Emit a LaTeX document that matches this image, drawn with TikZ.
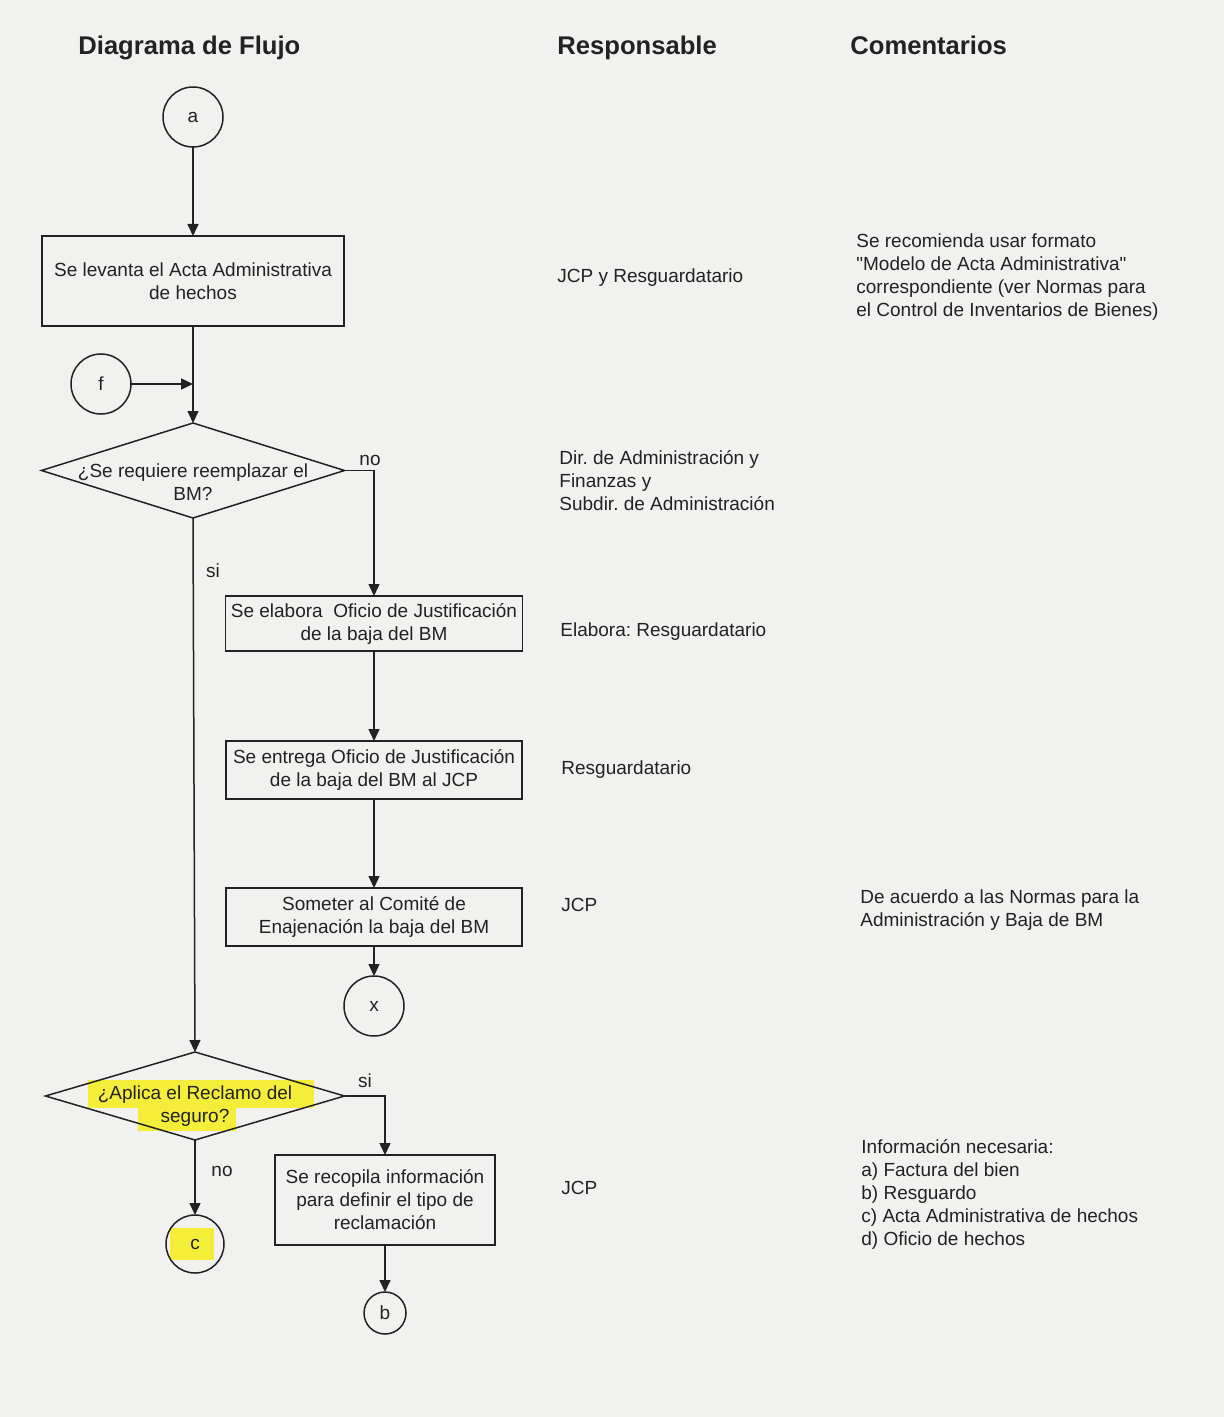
\documentclass[tikz,border=0pt]{standalone}
\usepackage{fontspec}
\setmainfont{Liberation Sans}[Ligatures=TeXOff]
\usetikzlibrary{arrows.meta,shapes.geometric}
\definecolor{paper}{RGB}{241,241,239}
\definecolor{ink}{RGB}{34,34,34}
\definecolor{hl}{RGB}{244,238,58}
\frenchspacing
\begin{document}
\begin{tikzpicture}[x=0.5pt,y=-0.5pt,
  every node/.style={font=\fontsize{9.5pt}{11.5pt}\selectfont\frenchspacing, text=ink},
  box/.style={draw=ink, rectangle, line width=0.75pt, inner sep=0pt, outer sep=0pt, align=center},
  conn/.style={draw=ink, circle, line width=0.75pt, inner sep=0pt, outer sep=0pt},
  dec/.style={draw=ink, diamond, line width=0.75pt, inner sep=0pt, outer sep=0pt},
  dtext/.style={align=center, inner sep=0pt},
  flow/.style={draw=ink, line width=0.75pt, -{Triangle[length=6pt,width=5.5pt]}},
  hdr/.style={font=\fontsize{12.8pt}{15pt}\selectfont\bfseries, anchor=base west, inner sep=0pt},
  txt/.style={align=left, anchor=north west, inner sep=0pt},
  lbl/.style={inner sep=0pt},
]
% page
\fill[paper] (0,0) rectangle (1224,1417);
\useasboundingbox (0,0) rectangle (1224,1417);

% headers
\node[hdr] (h1) at (78,55) {Diagrama de Flujo};
\node[hdr] (h2) at (557,55) {Responsable};
\node[hdr] (h3) at (850,55) {Comentarios};

% highlights
\fill[hl] (88,1080) rectangle (314,1108);
\fill[hl] (138,1106) rectangle (236,1131);
\fill[hl] (170,1228) rectangle (214,1260);

% flow nodes
\node[conn, minimum size=30pt] (a) at (193,117) {a};
\node[box, minimum width=151pt, minimum height=45pt] (b1) at (193,281)
  {Se levanta el Acta Administrativa\\de hechos};
\node[conn, minimum size=30pt] (f) at (101,384) {f};
\coordinate (j1) at (193,384);
\node[dec, minimum width=151.5pt, minimum height=47.5pt] (d1) at (193,470.5) {};
\node[dtext] (d1t) at (193,482) {¿Se requiere reemplazar el\\BM?};
\node[box, minimum width=148.5pt, minimum height=27.5pt] (b2) at (374,623.5)
  {Se elabora\ \ Oficio de Justificación\\de la baja del BM};
\node[box, minimum width=148pt, minimum height=29pt] (b3) at (374,770)
  {Se entrega Oficio de Justificación\\de la baja del BM al JCP};
\node[box, minimum width=148pt, minimum height=29pt] (b4) at (374,917)
  {Someter al Comité de\\Enajenación la baja del BM};
\node[conn, minimum size=30pt] (x) at (374,1006) {x};
\node[dec, minimum width=149.5pt, minimum height=44pt] (d2) at (195,1096) {};
\node[dtext] (d2t) at (195,1106) {¿Aplica el Reclamo del\\seguro?};
\node[conn, minimum size=29pt] (c) at (195,1244) {c};
\node[box, minimum width=110pt, minimum height=45pt] (b5) at (385,1200)
  {Se recopila información\\para definir el tipo de\\reclamación};
\node[conn, minimum size=21pt] (b) at (385,1313) {b};

% connectors
\draw[flow] (a) -- (b1);
\draw[flow] (b1.south) -- (d1.north);
\draw[flow] (f) -- (j1);
\draw[flow] (d1.east) -| (b2.north);
\draw[flow] (d1.south) -- (d2.north);
\draw[flow] (b2) -- (b3);
\draw[flow] (b3) -- (b4);
\draw[flow] (b4) -- (x);
\draw[flow] (d2.east) -| (b5.north);
\draw[flow] (d2.south) -- (c);
\draw[flow] (b5) -- (b);

% branch labels
\node[lbl] (l1) at (370,460) {no};
\node[lbl] (l2) at (213,571) {si};
\node[lbl] (l3) at (365,1081) {si};
\node[lbl] (l4) at (222,1171) {no};

% responsable column
\node[txt] (r1) at (557,268) {JCP y Resguardatario};
\node[txt] (r2) at (559,450) {Dir. de Administración y\\Finanzas y\\Subdir. de Administración};
\node[txt] (r3) at (560,622) {Elabora: Resguardatario};
\node[txt] (r4) at (561,760) {Resguardatario};
\node[txt] (r5) at (561,898) {JCP};
\node[txt] (r6) at (561,1181) {JCP};

% comentarios column
\node[txt] (c1) at (856,233) {Se recomienda usar formato\\"Modelo de Acta Administrativa"\\correspondiente (ver Normas para\\el Control de Inventarios de Bienes)};
\node[txt] (c2) at (860,889) {De acuerdo a las Normas para la\\Administración y Baja de BM};
\node[txt] (c3) at (861,1139) {Información necesaria:\\a) Factura del bien\\b) Resguardo\\c) Acta Administrativa de hechos\\d) Oficio de hechos};
\end{tikzpicture}
\end{document}
